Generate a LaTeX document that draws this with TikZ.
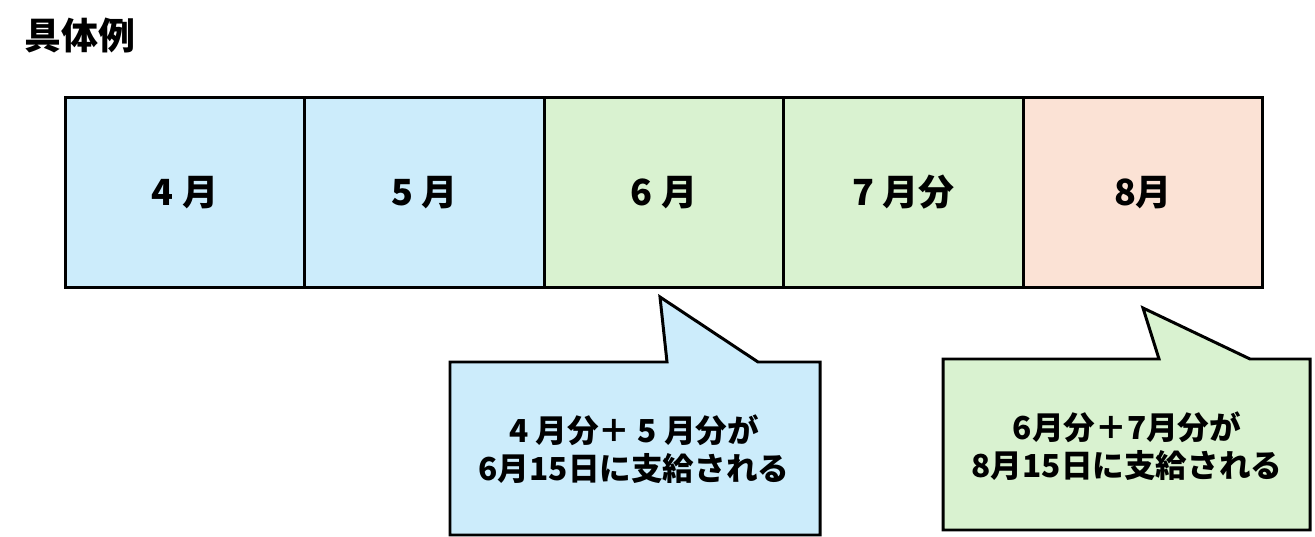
\documentclass[tikz,border=0pt]{standalone}
\usepackage{fontspec}
\setmainfont{Noto Sans CJK JP}
\usepackage{tikz}
\usetikzlibrary{positioning}

\definecolor{aoiro}{HTML}{CCECFB}
\definecolor{midori}{HTML}{D9F2D0}
\definecolor{momo}{HTML}{FBE2D5}

\tikzset{
    month/.style={draw, line width=1.7pt, minimum width=4.79cm, minimum height=3.82cm,
        inner sep=0pt, font=\bfseries\fontsize{20.5}{24}\selectfont},
    callout/.style={draw, line width=1.7pt, line join=miter},
    msg/.style={align=center, font=\bfseries\fontsize{18}{21.5}\selectfont}
}

\begin{document}
\begin{tikzpicture}[x=0.02cm, y=-0.02cm]
            \useasboundingbox (0,0) rectangle (1315,537);
            \node[font=\bfseries\fontsize{21}{25}\selectfont] (title) at (80,35) {具体例};
            % months
            \node[month, fill=aoiro] (apr) at (185,192.5) {4\hspace{0.25em}月};
            \node[month, fill=aoiro] (may) at (424.5,192.5) {5\hspace{0.25em}月};
            \node[month, fill=midori] (jun) at (664,192.5) {6\hspace{0.25em}月};
            \node[month, fill=midori] (jul) at (903.5,192.5) {7\hspace{0.25em}月分};
            \node[month, fill=momo] (aug) at (1143,192.5) {8月};
            % callouts
            \draw[callout, fill=aoiro] (450,362) -- (667,362) -- (660,297) -- (758,362)
                -- (820,362) -- (820,535) -- (450,535) -- cycle;
            \node[msg] (pay1) at (634,449) {4 月分＋ 5 月分が\\6月15日に支給される};
            \draw[callout, fill=midori] (943,359) -- (1159,359) -- (1143,308) -- (1250,359)
                -- (1310,359) -- (1310,530) -- (943,530) -- cycle;
            \node[msg] (pay2) at (1127,446) {6月分＋7月分が\\8月15日に支給される};
        \end{tikzpicture}
\end{document}
